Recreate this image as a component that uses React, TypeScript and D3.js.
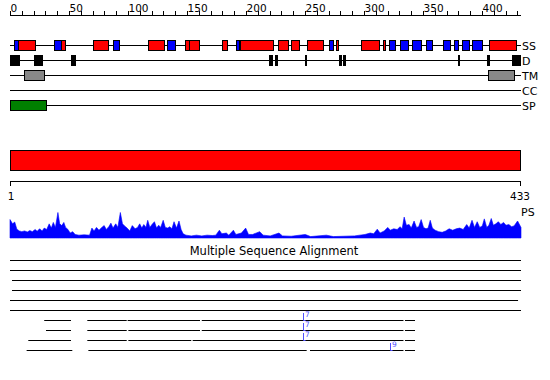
import React from "react";
import * as d3 from "d3";

const seqLength = 433;
const rulerLabels = [0, 50, 100, 150, 200, 250, 300, 350, 400];
const rulerMinor = d3.range(0, 431, 10);
const trackNames = ["SS", "D", "TM", "CC", "SP"];

// secondary structure (residue start, end)
const helices: [number, number][] = [
  [7, 21], [43, 47], [70.6, 83.3], [117, 130.8], [148.6, 151.7], [151.7, 160],
  [180, 183.6], [195, 223], [226.9, 235.3], [237.9, 244.7], [251.4, 265.5],
  [276, 278.2], [297, 313], [315.8, 317.8], [406, 428.8],
];
const strands: [number, number][] = [
  [3.4, 7], [37.5, 43], [87.5, 92], [133.3, 139.6], [191.5, 193.8], [270.6, 273.5],
  [321.4, 326.5], [330.3, 337.5], [341, 348], [352.8, 357.9], [367.2, 372.9],
  [376.5, 380], [383.3, 389.2], [391.8, 400],
];
const disorder: [number, number][] = [
  [0, 8.5], [20.3, 27.7], [51.7, 56], [219.7, 223], [224.6, 227.4], [249.7, 251.4],
  [279, 281], [282.5, 284.5], [379.4, 380.5], [404, 407], [425.7, 433],
];
const transmembrane: [number, number][] = [[11.9, 29.1], [405.3, 427.4]];
const signalPeptide: [number, number][] = [[0, 30.3]];

// profile (residue, height)
const psPos = [
  0, 2.2, 4, 5.8, 7.9, 10, 12.3, 14.7, 16.8, 18.9, 21.3, 23, 25.1, 27.2, 29, 31.1, 33.2, 35, 36.7, 38.5,
  40.6, 42.1, 43.9, 45.6, 47.1, 48.9, 51, 53.1, 55.2, 58.4, 62.9, 67.4, 69.4, 71.2, 73.3, 75.4, 77.8, 79.8,
  81.6, 83.7, 85.5, 87.3, 89.6, 91.4, 93.5, 95.3, 97.1, 99.2, 101.5, 103.6, 106, 108.1, 109.9, 111.7, 113.4,
  115.2, 116.7, 118.5, 120.3, 122.4, 124.2, 126, 127.7, 129.8, 131.6, 133.7, 135.4, 137.2, 139, 141.1, 143.2,
  145, 146.7, 149.1, 153.6, 158, 162.5, 167, 171.4, 174.4, 177.4, 179.5, 183.3, 185.4, 189.3, 191.4, 196.1,
  199.7, 202.1, 205.6, 211.6, 214.5, 220.5, 227.9, 230.9, 238.3, 250.2, 254.7, 268.1, 274, 282.9, 291.9,
  300.8, 305.2, 308.2, 311.2, 313.6, 317.1, 320.1, 322.2, 325.2, 328.1, 330.5, 332.3, 334, 335.9, 338.2, 340,
  342.4, 344.5, 346.3, 348.4, 350.4, 352.5, 354.3, 356.1, 357.9, 360.2, 363.2, 366.2, 369.2, 372.1, 375.1,
  378.1, 381.1, 384, 387, 389.1, 391.5, 393.6, 395.9, 398, 400.2, 401.9, 404, 405.8, 407.8, 409.6, 411.7,
  413.8, 415.9, 418.2, 420.3, 422.7, 425, 427.1, 430.1, 433,
];
const psVal = [
  52, 40, 45, 25, 20, 18, 20, 17, 21, 18, 24, 19, 26, 20, 28, 24, 40, 28, 44, 30,
  72, 40, 35, 44, 30, 25, 14, 18, 10, 8, 9, 8, 28, 20, 30, 22, 30, 35,
  24, 32, 42, 28, 40, 30, 72, 40, 34, 28, 20, 35, 26, 30, 40, 28, 38,
  30, 50, 30, 38, 46, 28, 36, 30, 50, 30, 28, 32, 26, 46, 28, 48,
  24, 12, 8, 6, 8, 6, 8, 7, 8, 22, 12, 14, 8, 22, 10, 14,
  28, 10, 10, 18, 8, 6, 14, 6, 5, 10, 4, 8, 4, 5, 6,
  10, 14, 12, 25, 14, 20, 30, 22, 26, 24, 32, 26, 59, 36, 38, 28,
  48, 30, 32, 52, 30, 26, 28, 50, 28, 22, 18, 16, 20, 26, 22,
  26, 28, 24, 38, 28, 50, 30, 46, 30, 34, 54, 30, 36, 55, 36, 40,
  46, 38, 44, 36, 38, 32, 34, 48, 30,
];

// multiple sequence alignment rows (segments in residues)
const msaRows: [number, number][][] = [
  [[0, 433]],
  [[0, 433]],
  [[1.7, 433]],
  [[1.7, 433]],
  [[0, 430.5]],
  [[0, 433]],
  [[29, 51.7], [65.5, 98.9], [99.7, 161], [162.5, 333.4], [334.7, 343.2]],
  [[30.5, 51.7], [65.5, 98.9], [100.3, 161], [162.5, 333.4], [334.7, 343.2]],
  [[15.5, 51.7], [65.5, 98.9], [100.3, 153.6], [154.8, 333.4], [334.7, 343.2]],
  [[14.1, 52.8], [66.4, 251.4], [254.2, 333.4], [334.7, 343.2]],
];
const msaMarkerRow = [6, 7, 8, 9];
const msaMarkerPos = [248.6, 248.6, 248.6, 322];
const msaMarkerLabel = ["7", "7", "7", "9"];

const FONT = "DejaVu Sans, Verdana, sans-serif";

export default function App() {
  const x = d3.scaleLinear().domain([0, seqLength]).range([10, 521]);
  const trackY = d3.scaleLinear().domain([0, 4]).range([45, 105]);
  const yP = d3.scaleLinear().domain([0, 72]).range([238, 212.5]);
  const rowY = d3.scaleLinear().domain([0, 9]).range([260, 350]);

  const psData = psPos.map((p, i) => ({ p, v: psVal[i] }));
  const area = d3
    .area<{ p: number; v: number }>()
    .x((d) => x(d.p))
    .y0(yP(0))
    .y1((d) => yP(d.v));

  const boxes = (
    list: [number, number][],
    track: number,
    fill: string,
    h: number,
    key: string
  ) =>
    list.map(([s, e], i) => {
      const cy = trackY(track);
      return (
        <rect
          key={key + i}
          x={Math.round(x(s)) + 0.5}
          y={cy - h / 2 + 0.5}
          width={Math.max(1, Math.round(x(e)) - Math.round(x(s)))}
          height={h}
          fill={fill}
          stroke="#000"
          strokeWidth={1}
        />
      );
    });

  return (
    <div style={{ position: "absolute", left: 0, top: 0, width: 550, height: 380, background: "#fff" }}>
      <svg width={550} height={380} style={{ display: "block" }}>
        {/* top ruler */}
        <line x1={x(0)} x2={x(seqLength)} y1={15.5} y2={15.5} stroke="#000" />
        {rulerMinor.map((t) => (
          <line key={"rt" + t} x1={Math.round(x(t)) + 0.5} x2={Math.round(x(t)) + 0.5} y1={11} y2={15.5} stroke="#000" />
        ))}
        {rulerLabels.map((t) => (
          <text key={"rl" + t} x={x(t) + 0.5} y={11.5} fontSize={10.5} fontFamily={FONT} fill="#000">
            {t}
          </text>
        ))}

        {/* track baselines */}
        {trackNames.map((n, i) => (
          <g key={"tr" + n}>
            <line x1={x(0)} x2={x(seqLength)} y1={trackY(i) + 0.5} y2={trackY(i) + 0.5} stroke="#000" />
            <text x={522} y={trackY(i) + 4.5} fontSize={11} fontFamily={FONT} fill="#000">
              {n}
            </text>
          </g>
        ))}
        {boxes(helices, 0, "#ff0000", 10, "h")}
        {boxes(strands, 0, "#0000ff", 10, "s")}
        {disorder.map(([s, e], i) => (
          <rect
            key={"d" + i}
            x={Math.round(x(s))}
            y={55}
            width={Math.max(2, Math.round(x(e)) - Math.round(x(s)))}
            height={11}
            fill="#000"
          />
        ))}
        {boxes(transmembrane, 2, "#888888", 10, "tm")}
        {boxes(signalPeptide, 4, "#008000", 10, "sp")}

        {/* domain bar */}
        <rect x={x(0) + 0.5} y={150.5} width={x(seqLength) - x(0) - 1} height={20} fill="#ff0000" stroke="#000" />
        <line x1={x(0)} x2={x(seqLength)} y1={181.5} y2={181.5} stroke="#000" />
        <line x1={x(0) + 0.5} x2={x(0) + 0.5} y1={181} y2={186} stroke="#000" />
        <line x1={x(seqLength) - 0.5} x2={x(seqLength) - 0.5} y1={181} y2={186} stroke="#000" />
        <text x={x(0) + 1} y={200} fontSize={10.5} fontFamily={FONT} textAnchor="middle" fill="#000">
          1
        </text>
        <text x={x(seqLength) - 1} y={200} fontSize={10.5} fontFamily={FONT} textAnchor="middle" fill="#000">
          {seqLength}
        </text>
        <text x={521} y={216} fontSize={11} fontFamily={FONT} fill="#000">
          PS
        </text>

        {/* profile */}
        <path d={area(psData) || ""} fill="#0000ff" stroke="#0000ff" strokeWidth={0.6} />

        {/* MSA */}
        <text x={274} y={255} fontSize={11.5} fontFamily={FONT} textAnchor="middle" fill="#000">
          Multiple Sequence Alignment
        </text>
        {msaRows.map((segs, r) =>
          segs.map(([s, e], j) => (
            <line
              key={"m" + r + "_" + j}
              x1={x(s)}
              x2={x(e)}
              y1={rowY(r) + 0.5}
              y2={rowY(r) + 0.5}
              stroke="#000"
            />
          ))
        )}
        {msaMarkerRow.map((r, i) => {
          const mx = Math.round(x(msaMarkerPos[i])) + 0.5;
          const y = rowY(r);
          return (
            <g key={"mk" + i}>
              <line x1={mx} x2={mx} y1={y - 7} y2={y + 0.5} stroke="#5050ff" />
              <line x1={mx} x2={mx + 2} y1={y + 0.5} y2={y + 0.5} stroke="#5050ff" />
              <text x={mx + 1.5} y={y - 3} fontSize={7.5} fontFamily={FONT} fill="#5050ff">
                {msaMarkerLabel[i]}
              </text>
            </g>
          );
        })}
      </svg>
    </div>
  );
}
